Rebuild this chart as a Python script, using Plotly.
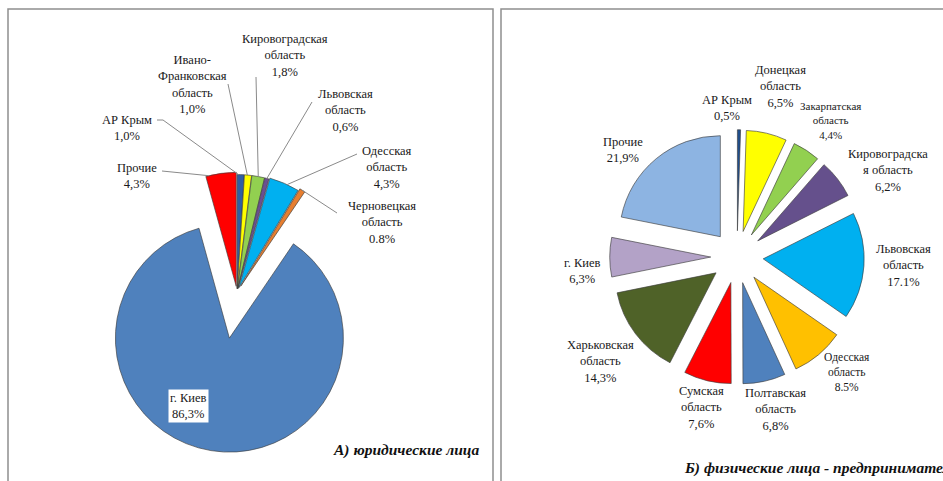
import math
import plotly.graph_objects as go

W, H = 943, 481

# ---------------- data ----------------
left_labels = ["АР Крым", "Ивано-Франковская область", "Кировоградская область", "Львовская область",
               "Одесская область", "Черновецкая область", "г. Киев", "Прочие"]
left_values = [1.0, 1.0, 1.8, 0.6, 4.3, 0.8, 86.3, 4.3]
left_text = ["АР Крым<br>1,0%", "Ивано-<br>Франковская<br>область<br>1,0%", "Кировоградская<br>область<br>1,8%",
             "Львовская<br>область<br>0,6%", "Одесская<br>область<br>4,3%", "Черновецкая<br>область<br>0.8%",
             "г. Киев<br>86,3%", "Прочие<br>4,3%"]

right_labels = ["АР Крым", "Донецкая область", "Закарпатская область", "Кировоградская область",
                "Львовская область", "Одесская область", "Полтавская область", "Сумская область",
                "Харьковская область", "г. Киев", "Прочие"]
right_values = [0.5, 6.5, 4.4, 6.2, 17.1, 8.5, 6.8, 7.6, 14.3, 6.3, 21.9]
right_text = ["АР Крым<br>0,5%", "Донецкая<br>область<br>6,5%", "Закарпатская<br>область<br>4,4%",
              "Кировоградска<br>я область<br>6,2%", "Львовская<br>область<br>17.1%", "Одесская<br>область<br>8.5%",
              "Полтавская<br>область<br>6,8%", "Сумская<br>область<br>7,6%", "Харьковская<br>область<br>14,3%",
              "г. Киев<br>6,3%", "Прочие<br>21,9%"]

left_title = "А) юридические лица"
right_title = "Б) физические лица - предприниматели"

# ---------------- styles / layout ----------------
left_colors = ["#2F5FA5", "#FFFF00", "#92D050", "#6B4F91", "#00B0F0", "#E67E30", "#4F81BD", "#FF0000"]
right_colors = ["#1F4E8C", "#FFFF00", "#92D050", "#65508C", "#00B0F0", "#FFC000", "#4F81BD", "#FF0000",
                "#4F6228", "#B3A2C7", "#8DB4E2"]
left_pull = [0.03, 0.03, 0.03, 0.03, 0.04, 0.06, 0.41, 0.05]
right_pull = [0.26] * len(right_values)
# where along each slice's arc the leader line meets it (0 = start edge, 1 = end edge)
left_anchor_frac = [0.2, 0.4, 0.5, 0.5, 0.6, 0.5, 0.5, 0.1]

L_CX, L_CY, L_R = 237, 292, 114
R_CX, R_CY, R_R = 737, 257, 101

FONT = "Liberation Serif"


def fx(x):
    return x / W


def fy(y):
    return 1 - y / H


def domain(cx, cy, r, maxpull):
    half = r * (1 + maxpull)
    return dict(x=[fx(cx - half), fx(cx + half)], y=[fy(cy + half), fy(cy - half)])


def anchor(values, idx, cx, cy, r, pull, f):
    tot = sum(values)
    mid = (sum(values[:idx]) + values[idx] / 2) / tot
    at = (sum(values[:idx]) + values[idx] * f) / tot
    tm = 2 * math.pi * mid
    ta = 2 * math.pi * at
    # slice shifted along its mid-angle by pull*r; point on the arc at angle ta
    ox, oy = cx + pull * r * math.sin(tm), cy - pull * r * math.cos(tm)
    return ox + r * math.sin(ta), oy - r * math.cos(ta)


fig = go.Figure()
line = dict(color="rgba(60,60,60,0.8)", width=0.8)
fig.add_trace(go.Pie(values=left_values, labels=left_labels, sort=False, direction="clockwise",
                     rotation=0, pull=left_pull, textinfo="none", hoverinfo="label+value",
                     marker=dict(colors=left_colors, line=line),
                     domain=domain(L_CX, L_CY, L_R, max(left_pull)), showlegend=False))
fig.add_trace(go.Pie(values=right_values, labels=right_labels, sort=False, direction="clockwise",
                     rotation=0, pull=right_pull, textinfo="none", hoverinfo="label+value",
                     marker=dict(colors=right_colors, line=line),
                     domain=domain(R_CX, R_CY, R_R, max(right_pull)), showlegend=False))

annotations = []
shapes = []

# left labels: (x, y center, leader start points or None)
left_pos = [
    (127, 127.5, [(157, 120), (163, 120)]),
    (192, 85, [(228, 84)]),
    (285, 55.5, [(256, 77)]),
    (345, 110, [(312, 102)]),
    (387, 167.5, [(357, 154)]),
    (382, 222.5, [(337, 213)]),
    (188, 406, None),
    (137, 176, [(162, 171)]),
]
for i, (x, y, lead) in enumerate(left_pos):
    ann = dict(x=fx(x), y=fy(y), xref="paper", yref="paper", text=left_text[i], showarrow=False,
               xanchor="center", yanchor="middle", align="center",
               font=dict(family=FONT, size=12.5, color="#1a1a1a"))
    if lead is None:
        ann.update(bgcolor="white", borderpad=1)
    annotations.append(ann)
    if lead:
        ax, ay = anchor(left_values, i, L_CX, L_CY, L_R, left_pull[i], left_anchor_frac[i])
        pts = lead + [(ax, ay)]
        path = "M " + " L ".join(f"{fx(px)},{fy(py)}" for px, py in pts)
        shapes.append(dict(type="path", path=path, xref="paper", yref="paper",
                           line=dict(color="#8a8a8a", width=1)))

right_pos = [
    (727, 108.5, 12.5), (780, 86.5, 12.5), (830, 121, 11), (888, 170.5, 12.5), (903, 265.5, 12.5),
    (847, 371.5, 11.5), (775, 409.5, 12.5), (701, 407.5, 12.5), (600, 361, 12.5), (582, 270.5, 12.5),
    (623, 150, 12.5),
]
for i, (x, y, s) in enumerate(right_pos):
    annotations.append(dict(x=fx(x), y=fy(y), xref="paper", yref="paper", text=right_text[i],
                            showarrow=False, xanchor="center", yanchor="middle", align="center",
                            font=dict(family=FONT, size=s, color="#1a1a1a")))

annotations.append(dict(x=fx(331), y=fy(450), xref="paper", yref="paper", text=f"<b><i>{left_title}</i></b>",
                        showarrow=False, xanchor="left", yanchor="middle",
                        font=dict(family=FONT, size=15.5, color="#111")))
annotations.append(dict(x=fx(682), y=fy(468), xref="paper", yref="paper", text=f"<b><i>{right_title}</i></b>",
                        showarrow=False, xanchor="left", yanchor="middle",
                        font=dict(family=FONT, size=15.5, color="#111")))

# panel frames
for x0, x1 in [(8, 493), (501, 965)]:
    shapes.append(dict(type="rect", xref="paper", yref="paper", x0=fx(x0), x1=fx(x1), y0=fy(500), y1=fy(9),
                       line=dict(color="#8f8f8f", width=1.5), layer="below"))

fig.update_layout(width=W, height=H, margin=dict(l=0, r=0, t=0, b=0), paper_bgcolor="white",
                  plot_bgcolor="white", annotations=annotations, shapes=shapes, showlegend=False)
fig.write_html("out.html", config={"displayModeBar": False},
               post_script="document.body.style.margin='0';document.body.style.overflow='hidden';")
